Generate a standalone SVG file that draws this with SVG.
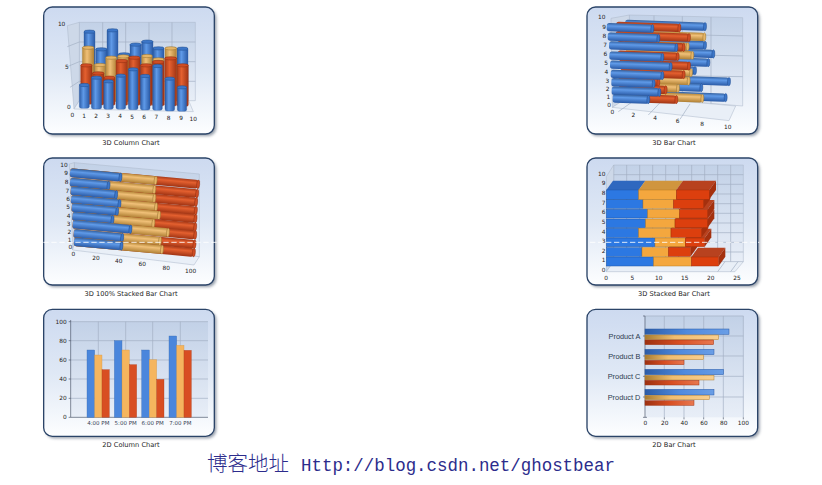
<svg xmlns="http://www.w3.org/2000/svg" width="822" height="485" viewBox="0 0 822 485">
<style>
.panel{fill:url(#pg);stroke:#2b4468;stroke-width:4}
.sh{fill:#3a4a60;opacity:.55;filter:url(#bl)}
.wall{fill:url(#pl);stroke:#a9b6c8;stroke-width:1.500}
.wall2{fill:#cdd8e8;stroke:#a9b6c8;stroke-width:1.500}
.floor{fill:#e9eff7;stroke:#a9b6c8;stroke-width:1.500}
.grid{stroke:#a2afc3;stroke-width:2;fill:none}
text{font-family:"DejaVu Sans","Liberation Sans",sans-serif}
.ax{font-size:17.500px;fill:#222;text-anchor:middle}
.axr{font-size:17.500px;fill:#222;text-anchor:end}
.cap{font-size:20px;fill:#222;text-anchor:middle}
.tk{font-size:16.500px;fill:#3a4556;text-anchor:middle}
.prod{font-family:"Liberation Sans",Arial,sans-serif;font-size:22px;fill:#2c3a4e;text-anchor:end}
.bv{fill:url(#bH);stroke:#2a5aa0;stroke-width:1}.be{fill:#3c76c8;stroke:#1f4c8e;stroke-width:1.500}
.ov{fill:url(#oH);stroke:#a8833c;stroke-width:1}.oe{fill:#e5b568;stroke:#94702c;stroke-width:1.500}
.rv{fill:url(#rH);stroke:#9c3414;stroke-width:1}.re{fill:#cf4d24;stroke:#8c2c10;stroke-width:1.500}
.bh{fill:url(#bV)}.oh{fill:url(#oV)}.rh{fill:url(#rV)}
.c2 rect{y:-12.500px;height:25px;rx:8px}.c2 ellipse{rx:4.500px;ry:12.500px}
.c3 rect{y:-13px;height:26px;rx:8px}.c3 ellipse{rx:4.500px;ry:13px}
.fb{fill:#2c78e2;stroke:#1d56a8;stroke-width:1.500}.fo{fill:#f4a73e;stroke:#b97c22;stroke-width:1.500}.fr{fill:#dc3f0e;stroke:#a22f0a;stroke-width:1.500}
.tb{fill:#2f68bf}.to{fill:#d0953e}.tr{fill:#b8421f}.sr{fill:#a4300e}
.c5b{fill:#4a86dc;stroke:#3768ad}.c5o{fill:#f5b55e;stroke:#cf9443}.c5r{fill:#d84e22;stroke:#ad3c18}
.d6b{fill:url(#d6b);stroke:#2a5aa6;stroke-width:1.500}.d6o{fill:url(#d6o);stroke:#b08034;stroke-width:1.500}.d6r{fill:url(#d6r);stroke:#a03414;stroke-width:1.500}
.dash{stroke:#fff;stroke-width:2.500;stroke-dasharray:16 8;fill:none}
</style>
<defs>
<filter id="bl" x="-10%" y="-10%" width="120%" height="120%"><feGaussianBlur stdDeviation="4"/></filter>
<linearGradient id="pg" x1="0" y1="0" x2="0" y2="1"><stop offset="0" stop-color="#cddaf0"/><stop offset=".5" stop-color="#dfe8f5"/><stop offset="1" stop-color="#fdfeff"/></linearGradient>
<linearGradient id="pl" x1="0" y1="0" x2="0" y2="1"><stop offset="0" stop-color="#c2d1e7"/><stop offset="1" stop-color="#e8eef7"/></linearGradient>
<linearGradient id="bH"><stop offset="0" stop-color="#2c5ca6"/><stop offset=".4" stop-color="#5f9ae8"/><stop offset="1" stop-color="#2a5aa6"/></linearGradient>
<linearGradient id="oH"><stop offset="0" stop-color="#b98a3c"/><stop offset=".4" stop-color="#f0c078"/><stop offset="1" stop-color="#b08034"/></linearGradient>
<linearGradient id="rH"><stop offset="0" stop-color="#a83a18"/><stop offset=".4" stop-color="#e4602f"/><stop offset="1" stop-color="#a03414"/></linearGradient>
<linearGradient id="bV" x1="0" y1="0" x2="0" y2="1"><stop offset="0" stop-color="#33609f"/><stop offset=".35" stop-color="#5f9ae8"/><stop offset="1" stop-color="#2a5aa6"/></linearGradient>
<linearGradient id="oV" x1="0" y1="0" x2="0" y2="1"><stop offset="0" stop-color="#b98a3c"/><stop offset=".35" stop-color="#f0c078"/><stop offset="1" stop-color="#b08034"/></linearGradient>
<linearGradient id="rV" x1="0" y1="0" x2="0" y2="1"><stop offset="0" stop-color="#a83a18"/><stop offset=".35" stop-color="#e4602f"/><stop offset="1" stop-color="#a03414"/></linearGradient>
<linearGradient id="d6b"><stop offset="0" stop-color="#2c5ca6"/><stop offset=".5" stop-color="#4f8ade"/><stop offset="1" stop-color="#6a9ee6"/></linearGradient>
<linearGradient id="d6o"><stop offset="0" stop-color="#a87c30"/><stop offset=".4" stop-color="#f0bd70"/><stop offset="1" stop-color="#f8cf90"/></linearGradient>
<linearGradient id="d6r"><stop offset="0" stop-color="#9c3010"/><stop offset=".5" stop-color="#d84e22"/><stop offset="1" stop-color="#e87850"/></linearGradient>
</defs>
<rect width="822" height="485" fill="#fff"/>

<g id="chart-3d-column" transform="translate(30,0) scale(.33333)">
<rect class="sh" x="47" y="27" width="512" height="381" rx="26"/>
<rect class="panel" x="41" y="21" width="512" height="381" rx="26"/>
<polygon class="wall" points="148,67 496,67 496,302 148,302"/>
<polygon class="wall2" points="112,77 148,67 148,302 132,327"/>
<polygon class="floor" points="132,327 148,302 476,302 490,335"/>
<path class="grid" d="M148,126H496M148,185H496M148,244H496M218,67V302M287,67V302M357,67V302M426,67V302M112,140L148,126M112,200L148,185M120,262L148,244"/>
<rect class="bv" x="162" y="92" width="33" height="210" rx="5"/><ellipse class="be" cx="178.500" cy="95" rx="16.500" ry="5"/>
<rect class="bv" x="197" y="145" width="34" height="157" rx="5"/><ellipse class="be" cx="214" cy="148" rx="17" ry="5"/>
<rect class="bv" x="231" y="88" width="33" height="214" rx="5"/><ellipse class="be" cx="247.500" cy="91" rx="16.500" ry="5"/>
<rect class="bv" x="265" y="160" width="35" height="142" rx="5"/><ellipse class="be" cx="282.500" cy="163" rx="17.500" ry="5"/>
<rect class="bv" x="300" y="131" width="34" height="171" rx="5"/><ellipse class="be" cx="317" cy="134" rx="17" ry="5"/>
<rect class="bv" x="335" y="122" width="34" height="180" rx="5"/><ellipse class="be" cx="352" cy="125" rx="17" ry="5"/>
<rect class="bv" x="369" y="142" width="33" height="160" rx="5"/><ellipse class="be" cx="385.500" cy="145" rx="16.500" ry="5"/>
<rect class="bv" x="441" y="143" width="33" height="160" rx="5"/><ellipse class="be" cx="457.500" cy="146" rx="16.500" ry="5"/>
<rect class="ov" x="157" y="140" width="35" height="165" rx="5"/><ellipse class="oe" cx="174.500" cy="143" rx="17.500" ry="5"/>
<rect class="ov" x="193" y="192" width="34" height="113" rx="5"/><ellipse class="oe" cx="210" cy="195" rx="17" ry="5"/>
<rect class="ov" x="227" y="170" width="33" height="135" rx="5"/><ellipse class="oe" cx="243.500" cy="173" rx="16.500" ry="5"/>
<rect class="ov" x="263" y="166" width="34" height="139" rx="5"/><ellipse class="oe" cx="280" cy="169" rx="17" ry="5"/>
<rect class="ov" x="335" y="165" width="32" height="140" rx="5"/><ellipse class="oe" cx="351" cy="168" rx="16" ry="5"/>
<rect class="ov" x="369" y="175" width="33" height="130" rx="5"/><ellipse class="oe" cx="385.500" cy="178" rx="16.500" ry="5"/>
<rect class="ov" x="405" y="142" width="35" height="163" rx="5"/><ellipse class="oe" cx="422.500" cy="145" rx="17.500" ry="5"/>
<rect class="rv" x="152" y="193" width="34" height="120" rx="5"/><ellipse class="re" cx="169" cy="196" rx="17" ry="5"/>
<rect class="rv" x="187" y="217" width="35" height="98" rx="5"/><ellipse class="re" cx="204.500" cy="220" rx="17.500" ry="5"/>
<rect class="rv" x="222" y="230" width="33" height="86" rx="5"/><ellipse class="re" cx="238.500" cy="233" rx="16.500" ry="5"/>
<rect class="rv" x="258" y="180" width="35" height="136" rx="5"/><ellipse class="re" cx="275.500" cy="183" rx="17.500" ry="5"/>
<rect class="rv" x="296" y="170" width="34" height="146" rx="5"/><ellipse class="re" cx="313" cy="173" rx="17" ry="5"/>
<rect class="rv" x="331" y="193" width="35" height="124" rx="5"/><ellipse class="re" cx="348.500" cy="196" rx="17.500" ry="5"/>
<rect class="rv" x="367" y="183" width="35" height="135" rx="5"/><ellipse class="re" cx="384.500" cy="186" rx="17.500" ry="5"/>
<rect class="rv" x="404" y="172" width="36" height="146" rx="5"/><ellipse class="re" cx="422" cy="175" rx="18" ry="5"/>
<rect class="rv" x="441" y="193" width="34" height="126" rx="5"/><ellipse class="re" cx="458" cy="196" rx="17" ry="5"/>
<rect class="bv" x="148" y="252" width="30" height="73" rx="6"/><ellipse class="be" cx="163" cy="255" rx="15" ry="5"/>
<rect class="bv" x="184" y="230" width="31" height="97" rx="6"/><ellipse class="be" cx="199.500" cy="233" rx="15.500" ry="5"/>
<rect class="bv" x="221" y="241" width="29" height="87" rx="6"/><ellipse class="be" cx="235.500" cy="244" rx="14.500" ry="5"/>
<rect class="bv" x="258" y="224" width="29" height="104" rx="6"/><ellipse class="be" cx="272.500" cy="227" rx="14.500" ry="5"/>
<rect class="bv" x="295" y="205" width="29" height="124" rx="6"/><ellipse class="be" cx="309.500" cy="208" rx="14.500" ry="5"/>
<rect class="bv" x="331" y="225" width="29" height="105" rx="6"/><ellipse class="be" cx="345.500" cy="228" rx="14.500" ry="5"/>
<rect class="bv" x="368" y="195" width="29" height="136" rx="6"/><ellipse class="be" cx="382.500" cy="198" rx="14.500" ry="5"/>
<rect class="bv" x="405" y="233" width="29" height="100" rx="6"/><ellipse class="be" cx="419.500" cy="236" rx="14.500" ry="5"/>
<rect class="bv" x="442" y="259" width="28" height="75" rx="6"/><ellipse class="be" cx="456" cy="262" rx="14" ry="5"/>
<text class="axr" x="106" y="79">10</text><text class="axr" x="116" y="208">5</text><text class="axr" x="122" y="328">0</text>
<text class="ax" x="127" y="351">0</text><text class="ax" x="162" y="353">1</text><text class="ax" x="198" y="354">2</text><text class="ax" x="234" y="355">3</text><text class="ax" x="270" y="355">4</text><text class="ax" x="306" y="356">5</text><text class="ax" x="342" y="357">6</text><text class="ax" x="379" y="358">7</text><text class="ax" x="416" y="359">8</text><text class="ax" x="453" y="360">9</text><text class="ax" x="490" y="362">10</text>
<text class="cap" x="303" y="436">3D Column Chart</text>
</g>

<g id="chart-3d-bar" class="c2" transform="translate(575,0) scale(.33333)">
<rect class="sh" x="42" y="27" width="512" height="381" rx="26" style="y:27px;height:381px;rx:26px"/>
<rect class="panel" x="36" y="21" width="512" height="381" rx="26" style="y:21px;height:381px;rx:26px"/>
<polygon class="wall" points="163,45 503,53 503,318 163,290"/>
<polygon class="wall2" points="108,55 163,45 163,290 112,322"/>
<polygon class="floor" points="112,322 163,290 482,318 462,362"/>
<path class="grid" d="M237,47V296M322,49V304M408,51V311M163,100L503,108M163,160L503,168M163,225L503,230M180,300L130,335M258,305L220,345M345,312L315,358"/>
<g transform="translate(390,80) rotate(2)"><rect class="bh" x="-240" width="240"/><ellipse class="be"/></g>
<g transform="translate(390,136) rotate(2)"><rect class="bh" x="-240" width="240"/><ellipse class="be"/></g>
<g transform="translate(415,162) rotate(2)"><rect class="bh" x="-260" width="260"/><ellipse class="be"/></g>
<g transform="translate(400,188) rotate(2)"><rect class="bh" x="-250" width="250"/><ellipse class="be"/></g>
<g transform="translate(360,212) rotate(2)"><rect class="bh" x="-210" width="210"/><ellipse class="be"/></g>
<g transform="translate(462,245) rotate(2)"><rect class="bh" x="-310" width="310"/><ellipse class="be"/></g>
<g transform="translate(379,263) rotate(2)"><rect class="bh" x="-230" width="230"/><ellipse class="be"/></g>
<g transform="translate(452,293) rotate(2)"><rect class="bh" x="-300" width="300"/><ellipse class="be"/></g>
<g transform="translate(388,111) rotate(2)"><rect class="oh" x="-240" width="240"/><ellipse class="oe"/></g>
<g transform="translate(338,140) rotate(2)"><rect class="oh" x="-190" width="190"/><ellipse class="oe"/></g>
<g transform="translate(352,166) rotate(2)"><rect class="oh" x="-200" width="200"/><ellipse class="oe"/></g>
<g transform="translate(348,218) rotate(2)"><rect class="oh" x="-200" width="200"/><ellipse class="oe"/></g>
<g transform="translate(341,243) rotate(2)"><rect class="oh" x="-190" width="190"/><ellipse class="oe"/></g>
<g transform="translate(309,265) rotate(2)"><rect class="oh" x="-160" width="160"/><ellipse class="oe"/></g>
<g transform="translate(382,295) rotate(2)"><rect class="oh" x="-230" width="230"/><ellipse class="oe"/></g>
<g transform="translate(313,84) rotate(2)"><rect class="rh" x="-190" width="190"/><ellipse class="re"/></g>
<g transform="translate(342,113) rotate(2)"><rect class="rh" x="-220" width="220"/><ellipse class="re"/></g>
<g transform="translate(326,142) rotate(2)"><rect class="rh" x="-200" width="200"/><ellipse class="re"/></g>
<g transform="translate(308,170) rotate(2)"><rect class="rh" x="-180" width="180"/><ellipse class="re"/></g>
<g transform="translate(342,198) rotate(2)"><rect class="rh" x="-210" width="210"/><ellipse class="re"/></g>
<g transform="translate(326,224) rotate(2)"><rect class="rh" x="-190" width="190"/><ellipse class="re"/></g>
<g transform="translate(250,247) rotate(2)"><rect class="rh" x="-120" width="120"/><ellipse class="re"/></g>
<g transform="translate(272,270) rotate(2)"><rect class="rh" x="-140" width="140"/><ellipse class="re"/></g>
<g transform="translate(304,299) rotate(2)"><rect class="rh" x="-170" width="170"/><ellipse class="re"/></g>
<g transform="translate(232,86) rotate(2)"><rect class="bh" x="-137" width="137"/><ellipse class="be"/></g>
<g transform="translate(250,115) rotate(2)"><rect class="bh" x="-152" width="152"/><ellipse class="be"/></g>
<g transform="translate(304,143) rotate(2)"><rect class="bh" x="-202" width="202"/><ellipse class="be"/></g>
<g transform="translate(262,172) rotate(2)"><rect class="bh" x="-159" width="159"/><ellipse class="be"/></g>
<g transform="translate(287,200) rotate(2)"><rect class="bh" x="-182" width="182"/><ellipse class="be"/></g>
<g transform="translate(262,227) rotate(2)"><rect class="bh" x="-155" width="155"/><ellipse class="be"/></g>
<g transform="translate(236,251) rotate(2)"><rect class="bh" x="-127" width="127"/><ellipse class="be"/></g>
<g transform="translate(253,277) rotate(2)"><rect class="bh" x="-143" width="143"/><ellipse class="be"/></g>
<g transform="translate(220,299) rotate(2)"><rect class="bh" x="-107" width="107"/><ellipse class="be"/></g>
<text class="ax" x="80" y="58">10</text><text class="ax" x="87" y="87">9</text><text class="ax" x="88" y="114">8</text><text class="ax" x="90" y="141">7</text><text class="ax" x="91" y="169">6</text><text class="ax" x="93" y="196">5</text><text class="ax" x="94" y="222">4</text><text class="ax" x="97" y="248">3</text><text class="ax" x="98" y="274">2</text><text class="ax" x="100" y="298">1</text><text class="ax" x="102" y="322">0</text>
<text class="ax" x="112" y="343">0</text><text class="ax" x="175" y="352">2</text><text class="ax" x="240" y="361">4</text><text class="ax" x="308" y="370">6</text><text class="ax" x="381" y="378">8</text><text class="ax" x="458" y="387">10</text>
<text class="cap" x="297" y="436">3D Bar Chart</text>
</g>

<g id="chart-3d-100-stacked-bar" class="c3" transform="translate(30,150) scale(.33333)">
<rect class="sh" x="47" width="512" style="y:30px;height:381px;rx:26px"/>
<rect class="panel" x="41" width="512" style="y:24px;height:381px;rx:26px"/>
<polygon class="wall" points="133,38 508,72 508,320 133,280"/>
<polygon class="wall2" points="118,42 133,38 133,280 128,300"/>
<polygon class="floor" points="128,300 133,280 508,320 492,345"/>
<g transform="translate(120,68) rotate(5.2)"><rect class="rh" width="386"/><ellipse class="re" cx="386"/><rect class="oh" width="258"/><ellipse class="oe" cx="258"/><rect class="bh" width="152"/><ellipse class="be" cx="152"/></g>
<g transform="translate(120,96) rotate(5.2)"><rect class="rh" width="383"/><ellipse class="re" cx="383"/><rect class="oh" width="254"/><ellipse class="oe" cx="254"/><rect class="bh" width="116"/><ellipse class="be" cx="116"/></g>
<g transform="translate(122,122) rotate(5.2)"><rect class="rh" width="378"/><ellipse class="re" cx="378"/><rect class="oh" width="252"/><ellipse class="oe" cx="252"/><rect class="bh" width="137"/><ellipse class="be" cx="137"/></g>
<g transform="translate(123,148) rotate(5.2)"><rect class="rh" width="376"/><ellipse class="re" cx="376"/><rect class="oh" width="256"/><ellipse class="oe" cx="256"/><rect class="bh" width="146"/><ellipse class="be" cx="146"/></g>
<g transform="translate(125,172) rotate(5.2)"><rect class="rh" width="373"/><ellipse class="re" cx="373"/><rect class="oh" width="263"/><ellipse class="oe" cx="263"/><rect class="bh" width="137"/><ellipse class="be" cx="137"/></g>
<g transform="translate(127,198) rotate(5.2)"><rect class="rh" width="370"/><ellipse class="re" cx="370"/><rect class="oh" width="244"/><ellipse class="oe" cx="244"/><rect class="bh" width="121"/><ellipse class="be" cx="121"/></g>
<g transform="translate(128,222) rotate(5.2)"><rect class="rh" width="369"/><ellipse class="re" cx="369"/><rect class="oh" width="287"/><ellipse class="oe" cx="287"/><rect class="bh" width="174"/><ellipse class="be" cx="174"/></g>
<g transform="translate(131,250) rotate(5.2)"><rect class="rh" width="364"/><ellipse class="re" cx="364"/><rect class="oh" width="260"/><ellipse class="oe" cx="260"/><rect class="bh" width="146"/><ellipse class="be" cx="146"/></g>
<g transform="translate(132,275) rotate(5.2)"><rect class="rh" width="361"/><ellipse class="re" cx="361"/><rect class="oh" width="265"/><ellipse class="oe" cx="265"/><rect class="bh" width="143"/><ellipse class="be" cx="143"/></g>
<text class="ax" x="102" y="50">10</text><text class="ax" x="108" y="76">9</text><text class="ax" x="110" y="102">8</text><text class="ax" x="112" y="128">7</text><text class="ax" x="114" y="154">6</text><text class="ax" x="114" y="178">5</text><text class="ax" x="116" y="204">4</text><text class="ax" x="116" y="228">3</text><text class="ax" x="118" y="252">2</text><text class="ax" x="119" y="276">1</text><text class="ax" x="121" y="298">0</text>
<text class="ax" x="130" y="319">0</text><text class="ax" x="198" y="330">20</text><text class="ax" x="266" y="340">40</text><text class="ax" x="337" y="349">60</text><text class="ax" x="409" y="359">80</text><text class="ax" x="482" y="368">100</text>
<text class="cap" x="303" y="439">3D 100% Stacked Bar Chart</text>
<path class="dash" d="M40,277H568"/>
</g>

<g id="chart-3d-stacked-bar" transform="translate(575,150) scale(.33333)">
<rect class="sh" x="42" y="30" width="512" height="381" rx="26"/>
<rect class="panel" x="36" y="24" width="512" height="381" rx="26"/>
<polygon class="wall" points="116,45 505,45 505,335 116,335"/>
<polygon class="wall2" points="94,80 116,45 116,335 94,365"/>
<polygon class="floor" points="94,365 116,335 505,335 480,365"/>
<path class="grid" d="M155,45V335M194,45V335M233,45V335M272,45V335M311,45V335M350,45V335M389,45V335M428,45V335M467,45V335M116,74H505M116,103H505M116,132H505M116,161H505M116,190H505M116,219H505M116,248H505M116,277H505M116,306H505M428,365L450,335M467,365L489,335"/>
<g id="stack-row-1"><polygon class="tr" points="349,321 369,293 451,293 431,321"/><polygon class="sr" points="431,321 451,293 451,320 431,348"/><rect class="fb" x="94" y="321" width="142" height="27"/><rect class="fo" x="236" y="321" width="113" height="27"/><rect class="fr" x="349" y="321" width="82" height="27"/></g>
<g id="stack-row-2"><polygon class="tr" points="280,293 300,265 367,265 347,293"/><polygon class="sr" points="347,293 367,265 367,291 347,319"/><rect class="fb" x="94" y="293" width="107" height="26"/><rect class="fo" x="201" y="293" width="79" height="26"/><rect class="fr" x="280" y="293" width="67" height="26"/></g>
<g id="stack-row-3"><polygon class="tr" points="331,264 351,236 409,236 389,264"/><polygon class="sr" points="389,264 409,236 409,262 389,290"/><rect class="fb" x="94" y="264" width="146" height="26"/><rect class="fo" x="240" y="264" width="91" height="26"/><rect class="fr" x="331" y="264" width="58" height="26"/></g>
<g id="stack-row-4"><polygon class="tr" points="288,235 308,207 400,207 380,235"/><polygon class="sr" points="380,235 400,207 400,234 380,262"/><rect class="fb" x="94" y="235" width="97" height="27"/><rect class="fo" x="191" y="235" width="97" height="27"/><rect class="fr" x="288" y="235" width="92" height="27"/></g>
<g id="stack-row-5"><polygon class="tr" points="300,207 320,179 418,179 398,207"/><polygon class="sr" points="398,207 418,179 418,205 398,233"/><rect class="fb" x="94" y="207" width="118" height="26"/><rect class="fo" x="212" y="207" width="88" height="26"/><rect class="fr" x="300" y="207" width="98" height="26"/></g>
<g id="stack-row-6"><polygon class="tr" points="314,178 334,150 418,150 398,178"/><polygon class="sr" points="398,178 418,150 418,176 398,204"/><rect class="fb" x="94" y="178" width="124" height="26"/><rect class="fo" x="218" y="178" width="96" height="26"/><rect class="fr" x="314" y="178" width="84" height="26"/></g>
<g id="stack-row-7"><polygon class="tr" points="295,149 315,121 406,121 386,149"/><polygon class="sr" points="386,149 406,121 406,147 386,175"/><rect class="fb" x="94" y="149" width="110" height="26"/><rect class="fo" x="204" y="149" width="91" height="26"/><rect class="fr" x="295" y="149" width="91" height="26"/></g>
<g id="stack-row-8"><polygon class="tb" points="94,120 114,92 211,92 191,120"/><polygon class="to" points="191,120 211,92 324,92 304,120"/><polygon class="tr" points="304,120 324,92 423,92 403,120"/><polygon class="sr" points="403,120 423,92 423,120 403,148"/><rect class="fb" x="94" y="120" width="97" height="28"/><rect class="fo" x="191" y="120" width="113" height="28"/><rect class="fr" x="304" y="120" width="99" height="28"/></g>
<text class="ax" x="80" y="78">10</text><text class="ax" x="86" y="106">9</text><text class="ax" x="86" y="136">8</text><text class="ax" x="86" y="164">7</text><text class="ax" x="86" y="193">6</text><text class="ax" x="86" y="221">5</text><text class="ax" x="86" y="251">4</text><text class="ax" x="86" y="279">3</text><text class="ax" x="86" y="308">2</text><text class="ax" x="86" y="337">1</text><text class="ax" x="86" y="366">0</text>
<text class="ax" x="93" y="391">0</text><text class="ax" x="172" y="391">5</text><text class="ax" x="251" y="391">10</text><text class="ax" x="329" y="391">15</text><text class="ax" x="407" y="391">20</text><text class="ax" x="486" y="391">25</text>
<text class="cap" x="297" y="439">3D Stacked Bar Chart</text>
<path class="dash" d="M45,277H553"/>
</g>

<g id="chart-2d-column" transform="translate(30,300) scale(.33333)">
<rect class="sh" x="47" y="34" width="512" height="381" rx="26"/>
<rect class="panel" x="41" y="28" width="512" height="381" rx="26"/>
<rect x="122" y="65" width="412" height="287" fill="url(#pl)"/>
<path class="grid" d="M122,65H534M122,122H534M122,180H534M122,237H534M122,295H534M205,65V352M287,65V352M368,65V352M451,65V352"/>
<path d="M122,60V352H534M116,65H122M116,122H122M116,180H122M116,237H122M116,295H122M116,352H122" stroke="#4a5568" stroke-width="2" fill="none"/>
<rect class="c5b" x="171" y="150" width="23" height="202"/><rect class="c5o" x="194" y="165" width="22" height="187"/><rect class="c5r" x="216" y="209" width="22" height="143"/>
<rect class="c5b" x="253" y="122" width="23" height="230"/><rect class="c5o" x="276" y="150" width="22" height="202"/><rect class="c5r" x="298" y="194" width="22" height="158"/>
<rect class="c5b" x="335" y="150" width="23" height="202"/><rect class="c5o" x="358" y="179" width="22" height="173"/><rect class="c5r" x="380" y="238" width="22" height="114"/>
<rect class="c5b" x="417" y="108" width="23" height="244"/><rect class="c5o" x="440" y="136" width="22" height="216"/><rect class="c5r" x="462" y="151" width="22" height="201"/>
<text class="axr" x="110" y="71">100</text><text class="axr" x="110" y="128">80</text><text class="axr" x="110" y="186">60</text><text class="axr" x="110" y="243">40</text><text class="axr" x="110" y="301">20</text><text class="axr" x="110" y="358">0</text>
<text class="tk" x="205" y="375">4:00 PM</text><text class="tk" x="287" y="375">5:00 PM</text><text class="tk" x="368" y="375">6:00 PM</text><text class="tk" x="451" y="375">7:00 PM</text>
<text class="cap" x="303" y="442">2D Column Chart</text>
</g>

<g id="chart-2d-bar" transform="translate(575,300) scale(.33333)">
<rect class="sh" x="42" y="34" width="512" height="381" rx="26"/>
<rect class="panel" x="36" y="28" width="512" height="381" rx="26"/>
<rect x="210" y="48" width="295" height="304" fill="url(#pl)"/>
<path class="grid" d="M268,48V352M327,48V352M386,48V352M445,48V352M505,48V352M210,48H505M210,108H505M210,168H505M210,229H505M210,291H505"/>
<path d="M210,48V352M204,48H210M204,108H210M204,168H210M204,229H210M204,291H210M204,352H216M268,352V358M327,352V358M386,352V358M445,352V358M505,352V358" stroke="#4a5568" stroke-width="2" fill="none"/>
<rect class="d6b" x="210" y="87" width="252" height="16"/><rect class="d6o" x="210" y="105" width="221" height="14"/><rect class="d6r" x="210" y="120" width="206" height="14"/>
<rect class="d6b" x="210" y="148" width="207" height="16"/><rect class="d6o" x="210" y="165" width="176" height="14"/><rect class="d6r" x="210" y="181" width="117" height="13"/>
<rect class="d6b" x="210" y="208" width="236" height="16"/><rect class="d6o" x="210" y="226" width="207" height="14"/><rect class="d6r" x="210" y="241" width="162" height="14"/>
<rect class="d6b" x="210" y="268" width="207" height="17"/><rect class="d6o" x="210" y="286" width="193" height="13"/><rect class="d6r" x="210" y="302" width="147" height="14"/>
<text class="prod" x="196" y="117">Product A</text><text class="prod" x="196" y="177">Product B</text><text class="prod" x="196" y="237">Product C</text><text class="prod" x="196" y="299">Product D</text>
<text class="ax" x="211" y="376">0</text><text class="ax" x="269" y="376">20</text><text class="ax" x="328" y="376">40</text><text class="ax" x="387" y="376">60</text><text class="ax" x="446" y="376">80</text><text class="ax" x="505" y="376">100</text>
<text class="cap" x="297" y="442">2D Bar Chart</text>
</g>

<text id="footer" x="207" y="471" fill="#2c2c8c" font-size="20.500" style="font-family:'Liberation Mono','Noto Sans CJK SC',monospace"><tspan style="font-family:'Noto Sans CJK SC',sans-serif;font-weight:300">博客地址</tspan><tspan x="301" font-size="17.450">Http://blog.csdn.net/ghostbear</tspan></text>
</svg>
